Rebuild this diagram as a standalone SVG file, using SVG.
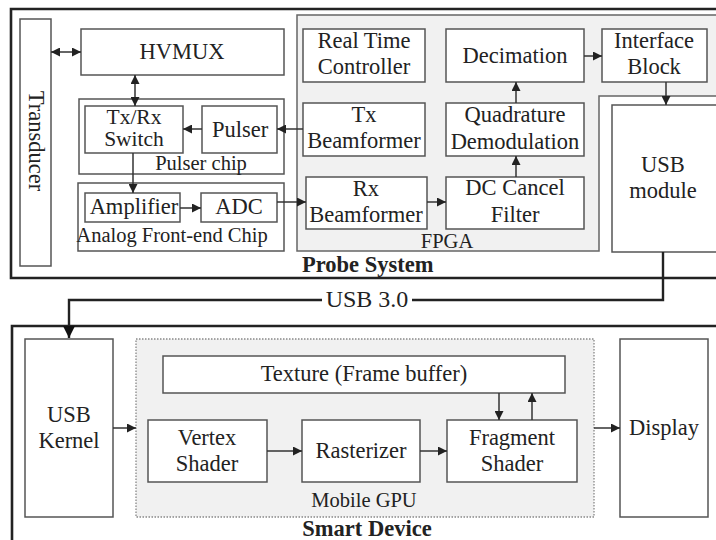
<svg xmlns="http://www.w3.org/2000/svg" width="716" height="540" viewBox="0 0 716 540" font-family="'Liberation Serif', 'DejaVu Serif', serif">
  <defs>
    <style>
      .outer { fill: none; stroke: #222; stroke-width: 2.6; }
      .blk { fill: #fff; stroke: #555; stroke-width: 1.5; }
      .grp { fill: none; stroke: #555; stroke-width: 1.5; }
      .area { fill: #f1f1f1; stroke: #666; stroke-width: 1.5; }
      .gpu { fill: #f1f1f1; stroke: #888; stroke-width: 1.3; stroke-dasharray: 1.5 1.5; }
      .wire { fill: none; stroke: #333; stroke-width: 1.5; }
      .usb { fill: none; stroke: #222; stroke-width: 2.4; }
      .lbl { font-family: 'Liberation Serif', 'DejaVu Serif', serif; font-size: 22.5px; fill: #222; text-anchor: middle; }
      .sm { font-size: 20.5px; }
      .title { font-weight: bold; font-size: 22.5px; }
    </style>
    <marker id="ah" viewBox="0 0 10 10" refX="10" refY="5" markerWidth="9" markerHeight="9" markerUnits="userSpaceOnUse" orient="auto-start-reverse">
      <path d="M0,0 L10,5 L0,10 Z" fill="#222"/>
    </marker>
    <marker id="ahl" viewBox="0 0 10 10" refX="10" refY="5" markerWidth="12" markerHeight="12" markerUnits="userSpaceOnUse" orient="auto">
      <path d="M0,0 L10,5 L0,10 Z" fill="#111"/>
    </marker>
  </defs>

  <!-- Probe System enclosure -->
  <g id="probe-system">
    <path class="outer" d="M720,9 H11 V278 H720"/>
    <text class="lbl title" x="302" y="272" style="text-anchor:start">Probe System</text>
  </g>

  <!-- FPGA region -->
  <g id="fpga">
    <path class="area" d="M720,15 H297 V251 H599 V96 H720"/>
    <text class="lbl sm" x="447" y="248">FPGA</text>
  </g>

  <g id="transducer">
    <rect class="blk" x="20" y="19" width="31" height="247"/>
    <text class="lbl" transform="translate(29,141) rotate(90)" x="0" y="0">Transducer</text>
  </g>

  <g id="hvmux">
    <rect class="blk" x="81" y="29" width="203" height="46"/>
    <text class="lbl" x="182" y="59">HVMUX</text>
  </g>

  <g id="pulser-chip">
    <rect class="grp" x="79" y="99" width="205" height="75"/>
    <text class="lbl sm" x="201" y="170">Pulser chip</text>
  </g>
  <g id="txrx-switch">
    <rect class="blk" x="85" y="106" width="98" height="47"/>
    <text class="lbl" x="134" y="124" style="font-size:21.5px">Tx/Rx</text>
    <text class="lbl" x="134" y="146" style="font-size:21.5px">Switch</text>
  </g>
  <g id="pulser">
    <rect class="blk" x="202" y="106" width="75" height="47"/>
    <text class="lbl" x="240" y="137">Pulser</text>
  </g>

  <g id="afe-chip">
    <rect class="grp" x="78" y="183" width="206" height="68"/>
    <text class="lbl sm" x="172" y="242">Analog Front-end Chip</text>
  </g>
  <g id="amplifier">
    <rect class="blk" x="85" y="193" width="95" height="29"/>
    <text class="lbl" x="134" y="214">Amplifier</text>
  </g>
  <g id="adc">
    <rect class="blk" x="201" y="193" width="76" height="29"/>
    <text class="lbl" x="239" y="214">ADC</text>
  </g>

  <g id="rt-controller">
    <rect class="blk" x="303" y="29" width="122" height="53"/>
    <text class="lbl" x="364" y="48">Real Time</text>
    <text class="lbl" x="364" y="74">Controller</text>
  </g>
  <g id="tx-beamformer">
    <rect class="blk" x="303" y="103" width="122" height="53"/>
    <text class="lbl" x="364" y="122">Tx</text>
    <text class="lbl" x="364" y="148">Beamformer</text>
  </g>
  <g id="rx-beamformer">
    <rect class="blk" x="306" y="177" width="121" height="52"/>
    <text class="lbl" x="366" y="196">Rx</text>
    <text class="lbl" x="366" y="222">Beamformer</text>
  </g>
  <g id="decimation">
    <rect class="blk" x="446" y="29" width="138" height="53"/>
    <text class="lbl" x="515" y="63">Decimation</text>
  </g>
  <g id="quad-demod">
    <rect class="blk" x="446" y="103" width="138" height="53"/>
    <text class="lbl" x="515" y="122">Quadrature</text>
    <text class="lbl" x="515" y="149">Demodulation</text>
  </g>
  <g id="dc-cancel">
    <rect class="blk" x="446" y="177" width="138" height="52"/>
    <text class="lbl" x="515" y="195">DC Cancel</text>
    <text class="lbl" x="515" y="222">Filter</text>
  </g>
  <g id="interface-block">
    <rect class="blk" x="602" y="29" width="105" height="53"/>
    <text class="lbl" x="654" y="48">Interface</text>
    <text class="lbl" x="654" y="74">Block</text>
  </g>
  <g id="usb-module">
    <rect class="blk" x="612" y="105" width="120" height="147"/>
    <text class="lbl" x="663" y="172">USB</text>
    <text class="lbl" x="663" y="198">module</text>
  </g>

  <!-- Smart Device enclosure -->
  <g id="smart-device">
    <path class="outer" d="M720,326 H12 V545"/>
    <text class="lbl title" x="367" y="536">Smart Device</text>
  </g>

  <g id="usb-kernel">
    <rect class="blk" x="25" y="339" width="88" height="178"/>
    <text class="lbl" x="69" y="422">USB</text>
    <text class="lbl" x="69" y="448">Kernel</text>
  </g>

  <g id="mobile-gpu">
    <rect class="gpu" x="136" y="339" width="458" height="178"/>
    <text class="lbl sm" x="364" y="507">Mobile GPU</text>
  </g>
  <g id="texture">
    <rect class="blk" x="163" y="356" width="402" height="37"/>
    <text class="lbl" x="364" y="381">Texture (Frame buffer)</text>
  </g>
  <g id="vertex-shader">
    <rect class="blk" x="148" y="420" width="119" height="62"/>
    <text class="lbl" x="207" y="445">Vertex</text>
    <text class="lbl" x="207" y="471">Shader</text>
  </g>
  <g id="rasterizer">
    <rect class="blk" x="302" y="420" width="118" height="62"/>
    <text class="lbl" x="361" y="458">Rasterizer</text>
  </g>
  <g id="fragment-shader">
    <rect class="blk" x="447" y="420" width="130" height="62"/>
    <text class="lbl" x="512" y="445">Fragment</text>
    <text class="lbl" x="512" y="471">Shader</text>
  </g>
  <g id="display">
    <rect class="blk" x="620" y="339" width="88" height="178"/>
    <text class="lbl" x="664" y="435">Display</text>
  </g>

  <!-- Connectors -->
  <g id="connectors">
    <line class="wire" x1="51" y1="52" x2="81" y2="52" marker-start="url(#ah)" marker-end="url(#ah)"/>
    <line class="wire" x1="135" y1="75" x2="135" y2="106" marker-start="url(#ah)" marker-end="url(#ah)"/>
    <line class="wire" x1="202" y1="129" x2="183" y2="129" marker-end="url(#ah)"/>
    <line class="wire" x1="303" y1="129" x2="277" y2="129" marker-end="url(#ah)"/>
    <line class="wire" x1="133" y1="153" x2="133" y2="193" marker-end="url(#ah)"/>
    <line class="wire" x1="180" y1="208" x2="201" y2="208" marker-end="url(#ah)"/>
    <line class="wire" x1="277" y1="202" x2="306" y2="202" marker-end="url(#ah)"/>
    <line class="wire" x1="427" y1="202" x2="446" y2="202" marker-end="url(#ah)"/>
    <line class="wire" x1="516" y1="177" x2="516" y2="156" marker-end="url(#ah)"/>
    <line class="wire" x1="516" y1="103" x2="516" y2="82" marker-end="url(#ah)"/>
    <line class="wire" x1="584" y1="56" x2="602" y2="56" marker-end="url(#ah)"/>
    <line class="wire" x1="666" y1="82" x2="666" y2="105" marker-end="url(#ah)"/>

    <!-- USB 3.0 link between the two systems -->
    <path class="usb" d="M663,252 V300 H412"/>
    <path class="usb" d="M322,300 H69 V338" marker-end="url(#ahl)"/>
    <text class="lbl" x="367" y="307" style="font-size:24px">USB 3.0</text>

    <line class="wire" x1="113" y1="428" x2="136" y2="428" marker-end="url(#ah)"/>
    <line class="wire" x1="267" y1="451" x2="302" y2="451" marker-end="url(#ah)"/>
    <line class="wire" x1="420" y1="451" x2="447" y2="451" marker-end="url(#ah)"/>
    <line class="wire" x1="499" y1="393" x2="499" y2="420" marker-end="url(#ah)"/>
    <line class="wire" x1="532" y1="420" x2="532" y2="393" marker-end="url(#ah)"/>
    <line class="wire" x1="594" y1="428" x2="620" y2="428" marker-end="url(#ah)"/>
  </g>
</svg>
